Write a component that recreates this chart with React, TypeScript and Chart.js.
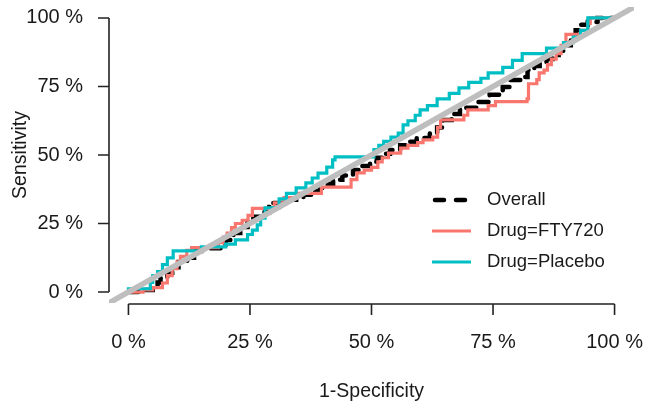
import { useEffect, useRef } from "react";
import { Chart, registerables } from "chart.js";

Chart.register(...registerables);

// Axis ticks (shared by both axes)
const tickValues = [0, 0.25, 0.5, 0.75, 1];
const tickLabels = ["0 %", "25 %", "50 %", "75 %", "100 %"];

// ROC step vertices: 1-specificity (x) and sensitivity (y)
const overallFpr = [0, 0.025, 0.05, 0.06, 0.066, 0.08, 0.09, 0.103, 0.121, 0.135, 0.15, 0.19, 0.2, 0.216, 0.23, 0.245, 0.257, 0.277, 0.29, 0.298, 0.326, 0.345, 0.36, 0.38, 0.394, 0.41, 0.421, 0.44, 0.462, 0.48, 0.497, 0.511, 0.525, 0.538, 0.559, 0.575, 0.593, 0.62, 0.635, 0.647, 0.665, 0.682, 0.717, 0.743, 0.77, 0.784, 0.811, 0.821, 0.835, 0.846, 0.86, 0.873, 0.885, 0.897, 0.91, 0.92, 0.93, 0.945, 0.965, 1];
const overallTpr = [0, 0.007, 0.02, 0.035, 0.05, 0.07, 0.09, 0.11, 0.125, 0.15, 0.16, 0.17, 0.19, 0.215, 0.237, 0.255, 0.275, 0.292, 0.31, 0.325, 0.337, 0.345, 0.355, 0.37, 0.38, 0.395, 0.41, 0.425, 0.445, 0.46, 0.475, 0.49, 0.505, 0.518, 0.536, 0.548, 0.562, 0.58, 0.6, 0.628, 0.65, 0.672, 0.693, 0.72, 0.748, 0.774, 0.785, 0.81, 0.825, 0.836, 0.85, 0.865, 0.88, 0.9, 0.93, 0.955, 0.975, 0.985, 1, 1];

const fty720Fpr = [0, 0.03, 0.05, 0.07, 0.08, 0.09, 0.1, 0.107, 0.12, 0.13, 0.185, 0.195, 0.203, 0.212, 0.22, 0.234, 0.246, 0.255, 0.3, 0.32, 0.347, 0.397, 0.458, 0.47, 0.485, 0.5, 0.513, 0.522, 0.535, 0.56, 0.575, 0.595, 0.606, 0.626, 0.636, 0.642, 0.69, 0.698, 0.74, 0.755, 0.82, 0.823, 0.84, 0.845, 0.855, 0.862, 0.87, 0.88, 0.89, 0.9, 0.93, 0.945, 0.95, 1];
const fty720Tpr = [0, 0.008, 0.016, 0.033, 0.06, 0.085, 0.11, 0.13, 0.152, 0.162, 0.18, 0.2, 0.215, 0.235, 0.25, 0.262, 0.28, 0.305, 0.325, 0.345, 0.36, 0.383, 0.41, 0.435, 0.445, 0.455, 0.475, 0.49, 0.507, 0.525, 0.535, 0.545, 0.555, 0.565, 0.6, 0.628, 0.645, 0.665, 0.68, 0.695, 0.705, 0.76, 0.775, 0.8, 0.81, 0.83, 0.85, 0.87, 0.9, 0.94, 0.955, 0.98, 1, 1];

const placeboFpr = [0, 0, 0.045, 0.05, 0.06, 0.07, 0.08, 0.092, 0.15, 0.2, 0.22, 0.245, 0.255, 0.265, 0.272, 0.281, 0.31, 0.325, 0.345, 0.365, 0.378, 0.39, 0.408, 0.42, 0.425, 0.505, 0.515, 0.525, 0.54, 0.555, 0.565, 0.575, 0.59, 0.6, 0.615, 0.635, 0.66, 0.68, 0.7, 0.725, 0.74, 0.77, 0.79, 0.81, 0.86, 0.895, 0.915, 0.93, 0.945, 1];
const placeboTpr = [0, 0.012, 0.035, 0.06, 0.075, 0.1, 0.125, 0.15, 0.165, 0.175, 0.19, 0.21, 0.226, 0.245, 0.27, 0.307, 0.34, 0.36, 0.38, 0.398, 0.416, 0.434, 0.456, 0.482, 0.493, 0.52, 0.535, 0.55, 0.565, 0.58, 0.61, 0.625, 0.645, 0.665, 0.68, 0.705, 0.725, 0.745, 0.765, 0.78, 0.8, 0.82, 0.845, 0.87, 0.89, 0.91, 0.93, 0.955, 1, 1];

// Chance diagonal, spanning the full plotting region
const diagonal = [-0.04, 1.04];

const seriesNames = ["Overall", "Drug=FTY720", "Drug=Placebo"];
const seriesColors = ["#000000", "#F8766D", "#00BFC4"];

const FONT = '"Liberation Sans", Arial, sans-serif';
const INK = "#1a1a1a";

const toPoints = (xs: number[], ys: number[]) => xs.map((x, i) => ({ x, y: ys[i] }));

const axesPlugin = {
  id: "baseAxes",
  afterDraw(chart: any) {
    const { ctx, chartArea, scales } = chart;
    const xs = scales.x;
    const ys = scales.y;
    ctx.save();
    ctx.strokeStyle = "#222";
    ctx.lineWidth = 1.6;
    ctx.fillStyle = INK;
    ctx.font = `20px ${FONT}`;

    // x axis
    const ax = Math.round(chartArea.bottom) + 1;
    ctx.beginPath();
    ctx.moveTo(xs.getPixelForValue(tickValues[0]), ax);
    ctx.lineTo(xs.getPixelForValue(tickValues[tickValues.length - 1]), ax);
    tickValues.forEach((v) => {
      const px = xs.getPixelForValue(v);
      ctx.moveTo(px, ax);
      ctx.lineTo(px, ax + 11);
    });
    ctx.stroke();
    ctx.textAlign = "center";
    ctx.textBaseline = "middle";
    tickValues.forEach((v, i) => {
      ctx.fillText(tickLabels[i], xs.getPixelForValue(v), ax + 38);
    });

    // y axis
    const ay = Math.round(chartArea.left);
    ctx.beginPath();
    ctx.moveTo(ay, ys.getPixelForValue(tickValues[0]));
    ctx.lineTo(ay, ys.getPixelForValue(tickValues[tickValues.length - 1]));
    tickValues.forEach((v) => {
      const py = ys.getPixelForValue(v);
      ctx.moveTo(ay, py);
      ctx.lineTo(ay - 11, py);
    });
    ctx.stroke();
    ctx.textAlign = "right";
    tickValues.forEach((v, i) => {
      ctx.fillText(tickLabels[i], ay - 26, ys.getPixelForValue(v));
    });

    // titles
    ctx.font = `19.5px ${FONT}`;
    ctx.textAlign = "center";
    const midX = (xs.getPixelForValue(0) + xs.getPixelForValue(1)) / 2;
    ctx.fillText("1-Specificity", midX, 392);
    const midY = (ys.getPixelForValue(0) + ys.getPixelForValue(1)) / 2;
    ctx.translate(21, midY);
    ctx.rotate(-Math.PI / 2);
    ctx.fillText("Sensitivity", 0, 0);
    ctx.restore();

    // legend
    ctx.save();
    const rows = [200, 231, 262];
    rows.forEach((ry, i) => {
      ctx.beginPath();
      ctx.strokeStyle = seriesColors[i];
      if (i === 0) {
        ctx.lineWidth = 4.5;
        ctx.lineCap = "round";
        ctx.setLineDash([9, 12]);
        ctx.moveTo(435, ry);
        ctx.lineTo(470, ry);
      } else {
        ctx.lineWidth = 3.2;
        ctx.lineCap = "butt";
        ctx.setLineDash([]);
        ctx.moveTo(432, ry);
        ctx.lineTo(471, ry);
      }
      ctx.stroke();
      ctx.setLineDash([]);
      ctx.fillStyle = INK;
      ctx.font = `18.5px ${FONT}`;
      ctx.textAlign = "left";
      ctx.textBaseline = "middle";
      ctx.fillText(seriesNames[i], 487, ry);
    });
    ctx.restore();
  },
};

export default function App() {
  const canvasRef = useRef<HTMLCanvasElement | null>(null);

  useEffect(() => {
    const canvas = canvasRef.current;
    if (!canvas) return;
    const chart = new Chart(canvas, {
      type: "line",
      data: {
        datasets: [
          {
            label: "diagonal",
            data: toPoints(diagonal, diagonal),
            borderColor: "#BEBEBE",
            borderWidth: 5.5,
            pointRadius: 0,
            order: 0,
          },
          {
            label: seriesNames[2],
            data: toPoints(placeboFpr, placeboTpr),
            borderColor: seriesColors[2],
            borderWidth: 3.2,
            stepped: "before",
            pointRadius: 0,
            order: 1,
          },
          {
            label: seriesNames[1],
            data: toPoints(fty720Fpr, fty720Tpr),
            borderColor: seriesColors[1],
            borderWidth: 3.2,
            stepped: "before",
            pointRadius: 0,
            order: 2,
          },
          {
            label: seriesNames[0],
            data: toPoints(overallFpr, overallTpr),
            borderColor: seriesColors[0],
            borderWidth: 4.5,
            borderDash: [10, 8],
            borderCapStyle: "round",
            stepped: "before",
            pointRadius: 0,
            order: 3,
          },
        ],
      },
      options: {
        animation: false,
        responsive: false,
        devicePixelRatio: 1,
        layout: { padding: { left: 109, right: 19, top: 7, bottom: 102 } },
        plugins: { legend: { display: false }, tooltip: { enabled: false } },
        scales: {
          x: { type: "linear", min: -0.04, max: 1.04, display: false },
          y: { type: "linear", min: -0.04, max: 1.04, display: false },
        },
      },
      plugins: [axesPlugin],
    });
    return () => chart.destroy();
  }, []);

  return (
    <div style={{ position: "absolute", left: 0, top: 0, width: 653, height: 405, background: "#fff" }}>
      <canvas ref={canvasRef} width={653} height={405} style={{ width: 653, height: 405 }} />
    </div>
  );
}
